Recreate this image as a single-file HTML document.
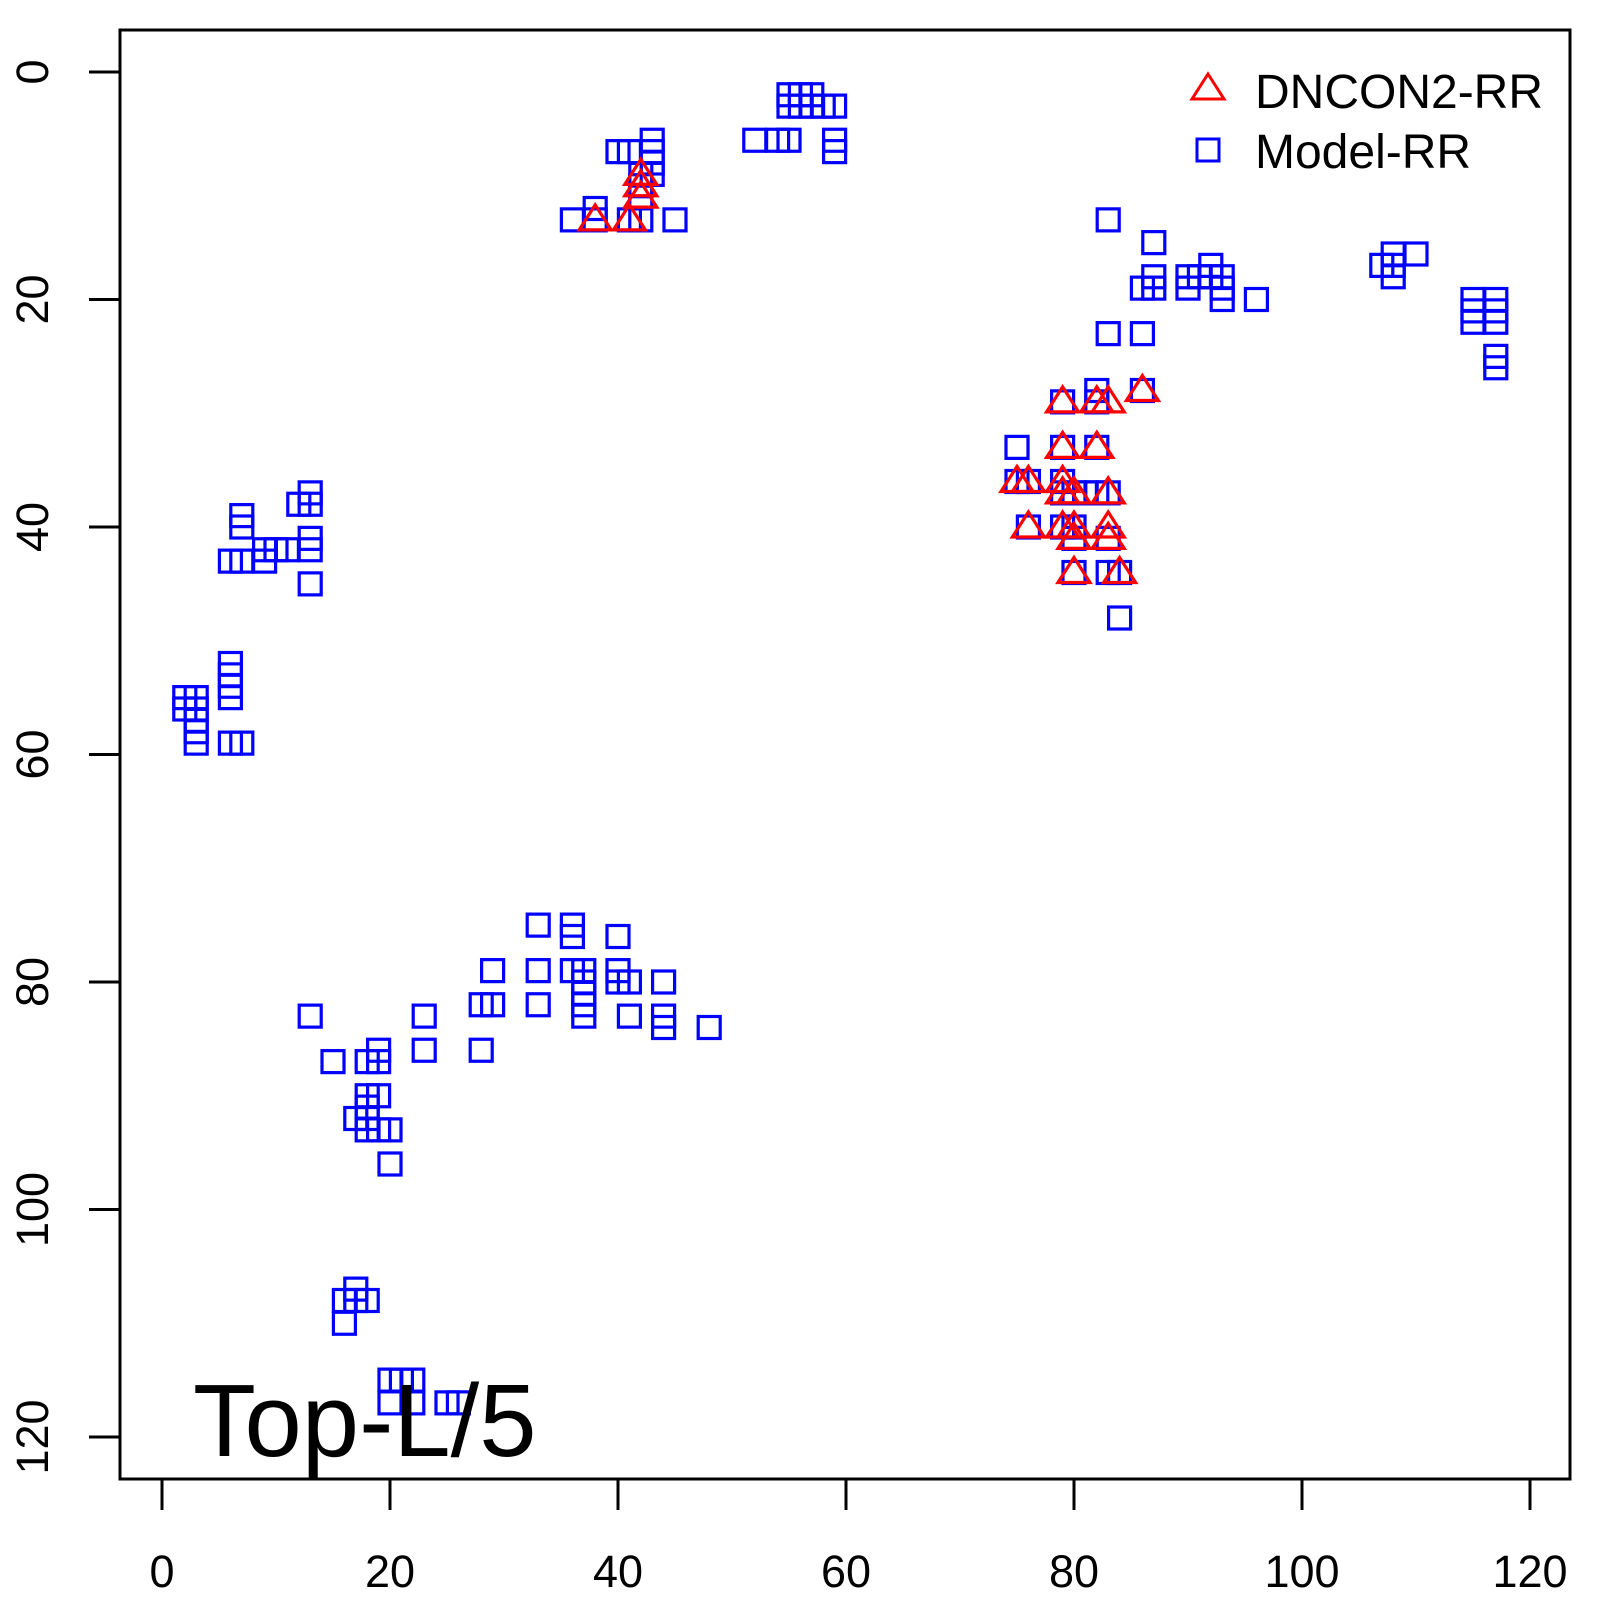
<!DOCTYPE html>
<html><head><meta charset="utf-8"><style>html,body{margin:0;padding:0;background:#fff}svg{display:block}</style></head>
<body>
<svg id="s" xmlns="http://www.w3.org/2000/svg" width="1600" height="1600" viewBox="0 0 1600 1600" font-family="Liberation Sans, sans-serif">
<rect x="0" y="0" width="1600" height="1600" fill="#fff"/>
<rect x="120" y="30" width="1450" height="1449" fill="none" stroke="#000" stroke-width="3"/>
<g id="ax" stroke="#000" stroke-width="3"></g>
<g id="lab" font-size="45" fill="#000"></g>
<g id="pts" fill="none" stroke-width="3.2"></g>
<text x="193" y="1456" font-size="103" fill="#000">Top-L/5</text>
<path d="M1208,74 L1224,99 L1192,99 Z" fill="none" stroke="#f00" stroke-width="3"/>
<rect x="1197" y="139" width="22" height="22" fill="none" stroke="#00f" stroke-width="3"/>
<text x="1255" y="108" font-size="48" fill="#000">DNCON2-RR</text>
<text x="1255" y="168" font-size="48" fill="#000">Model-RR</text>
</svg>
<script>
var NS="http://www.w3.org/2000/svg";
function X(v){return 162+11.4*v}function Y(v){return 72+11.375*v}
function el(t,a,p){var e=document.createElementNS(NS,t);for(var k in a)e.setAttribute(k,a[k]);p.appendChild(e);return e}
var ax=document.getElementById('ax'),lab=document.getElementById('lab'),pts=document.getElementById('pts');
el('line',{x1:X(0),y1:1479,x2:X(120),y2:1479},ax);
el('line',{x1:120,y1:Y(0),x2:120,y2:Y(120)},ax);
for(var v=0;v<=120;v+=20){
 el('line',{x1:X(v),y1:1479,x2:X(v),y2:1510},ax);
 el('line',{x1:89,y1:Y(v),x2:120,y2:Y(v)},ax);
 var t=el('text',{x:X(v),y:1587,'text-anchor':'middle'},lab);t.textContent=v;
 var t2=el('text',{x:0,y:0,'text-anchor':'middle',transform:'translate(48,'+Y(v)+') rotate(-90)'},lab);t2.textContent=v;
}
var sq=[[36,13],[38,12],[38,13],[41,13],[42,13],[42,11],[42,10],[42,9],[43,9],[43,8],[43,7],[43,6],[40,7],[41,7],[45,13],
[55,2],[56,2],[57,2],[55,3],[56,3],[57,3],[58,3],[59,3],[52,6],[54,6],[55,6],[59,6],[59,7],
[83,13],[87,15],[86,19],[87,19],[87,18],[90,18],[90,19],[91,18],[92,17],[92,18],[93,18],[93,19],[93,20],[96,20],[83,23],[86,23],[86,28],[82,28],
[107,17],[108,16],[108,17],[108,18],[110,16],[115,20],[115,21],[115,22],[117,20],[117,21],[117,22],[117,25],[117,26],
[79,29],[82,29],[75,33],[79,33],[82,33],[75,36],[76,36],[79,36],[79,37],[80,37],[81,37],[82,37],[83,37],[76,40],[79,40],[80,40],[80,41],[83,41],[80,44],[83,44],[84,44],[84,48],
[13,37],[13,38],[12,38],[7,39],[7,40],[13,41],[13,42],[13,45],[11,42],[10,42],[9,42],[9,43],[7,43],[6,43],
[6,52],[6,53],[6,54],[6,55],[2,55],[3,55],[2,56],[3,56],[3,57],[3,58],[3,59],[6,59],[7,59],
[13,83],[15,87],[18,87],[19,87],[19,86],[18,90],[19,90],[18,91],[17,92],[18,92],[18,93],[19,93],[20,93],[20,96],[23,83],[23,86],[28,82],[29,82],[29,79],[28,86],[33,75],[33,79],[33,82],[36,75],[36,76],[36,79],[37,79],[37,80],[37,81],[37,82],[37,83],[40,76],[40,79],[40,80],[41,80],[41,83],[44,80],[44,83],[44,84],[48,84],
[17,107],[16,108],[17,108],[18,108],[16,110],[20,115],[21,115],[22,115],[20,117],[22,117],[25,117],[26,117]];
sq.forEach(function(p){el('rect',{x:X(p[0])-11,y:Y(p[1])-11,width:22,height:22,stroke:'#00f'},pts)});
var tr=[[38,13],[41,13],[42,11],[42,10],[42,9],[79,29],[82,29],[83,29],[86,28],[79,33],[82,33],[75,36],[76,36],[79,36],[80,37],[83,37],[79,37],[76,40],[79,40],[80,40],[83,40],[80,41],[83,41],[80,44],[84,44]];
tr.forEach(function(p){var x=X(p[0]),y=Y(p[1]);el('path',{d:'M'+x+','+(y-15)+' L'+(x+16)+','+(y+10)+' L'+(x-16)+','+(y+10)+' Z',stroke:'#f00'},pts)});
</script>
</body></html>
